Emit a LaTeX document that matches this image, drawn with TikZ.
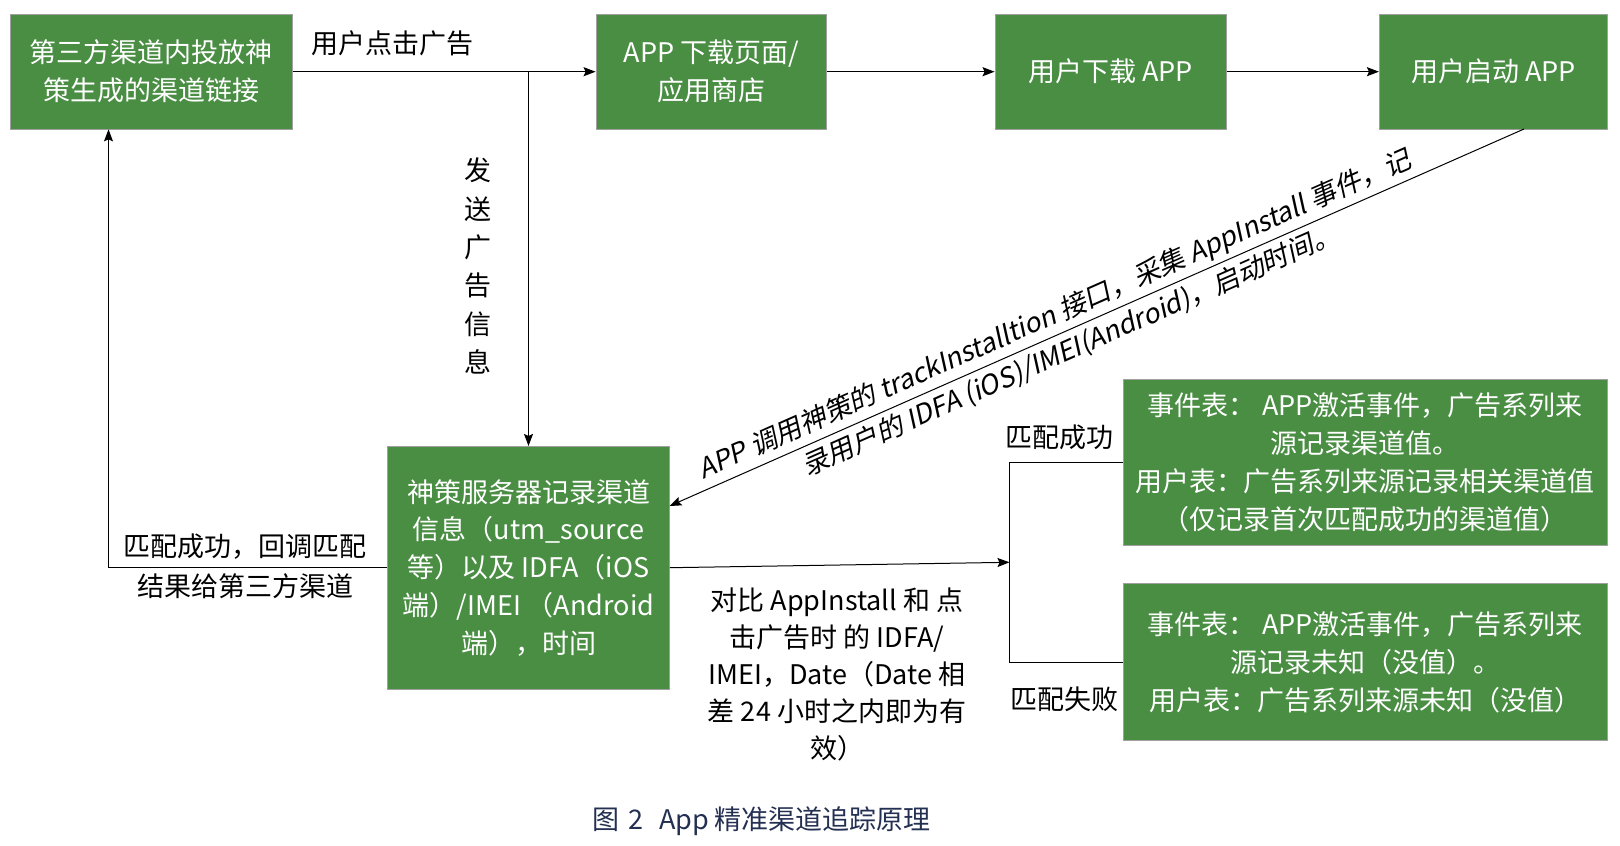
\documentclass[tikz,border=0pt]{standalone}
\usepackage{fontspec}
\setmainfont{Noto Sans CJK SC}
\newfontfamily\slfont{Noto Sans CJK SC}[FakeSlant=0.2]
\usetikzlibrary{arrows.meta,calc}
\definecolor{gfill}{RGB}{74,142,68}
\definecolor{gline}{RGB}{160,160,160}
\definecolor{capcol}{RGB}{36,48,82}
\begin{document}
\begin{tikzpicture}[x=1pt,y=-1pt,
  gbox/.style={draw=gline,line width=0.8pt,fill=gfill,text=white,align=center,inner sep=0pt,font=\fontsize{27}{38}\selectfont},
  lbl/.style={align=center,inner sep=0pt,font=\fontsize{27}{38}\selectfont},
  conn/.style={line width=1.5pt,-{Stealth[length=12pt,width=9pt,inset=2pt]}},
  thin/.style={line width=1pt}
]
\useasboundingbox (0,0) rectangle (1620,846);
% boxes
\node[gbox,minimum width=282pt,minimum height=114.5pt] (b1) at (151.4,71.7) {第三方渠道内投放神\\策生成的渠道链接};
\node[gbox,minimum width=230.6pt,minimum height=114.5pt] (b2) at (711.3,71.7) {APP 下载页面/\\应用商店};
\node[gbox,minimum width=231.4pt,minimum height=114.5pt] (b3) at (1110.7,71.7) {用户下载 APP};
\node[gbox,minimum width=228.3pt,minimum height=114.5pt] (b4) at (1493.5,71.7) {用户启动 APP};
\node[gbox,minimum width=282pt,minimum height=242.7pt,font=\fontsize{27}{37.7}\selectfont] (b5) at (528.5,567.7) {神策服务器记录渠道\\信息（utm\_source\\等）以及 IDFA（iOS\\端）/IMEI （Android\\端），时间};
\node[gbox,minimum width=484.6pt,minimum height=166.5pt] (b6) at (1365.3,462.3) {事件表： APP激活事件，广告系列来\\源记录渠道值。\\用户表：广告系列来源记录相关渠道值\\（仅记录首次匹配成功的渠道值）};
\node[gbox,minimum width=484.6pt,minimum height=157pt] (b7) at (1365.3,662.3) {事件表： APP激活事件，广告系列来\\源记录未知（没值）。\\用户表：广告系列来源未知（没值）};
% coordinates
\coordinate (fb) at (108.5,0);
\coordinate (br) at (1009.5,0);
\coordinate (d1) at (1524,129);
\coordinate (d2) at (669.5,506);
\coordinate (bm) at ($(b6.west)!0.5!(b7.west)$);
% connectors
\draw[conn] (b1.east) -- (b2.west);
\draw[conn] (b2.east) -- (b3.west);
\draw[conn] (b3.east) -- (b4.west);
\draw[conn,thin] (b5.north |- b1.east) -- (b5.north);
\draw[conn,thin] (b5.west) -| (fb |- b1.south);
\draw[conn,thin] (d1) -- node[sloped,pos=0.54,lbl,font=\slfont\fontsize{27}{39}\selectfont] {APP 调用神策的 trackInstalltion 接口，采集 AppInstall 事件，记\\录用户的 IDFA (iOS)/IMEI(Android)，启动时间。} (d2);
\draw[thin] (b6.west) -| (br |- b7.west) -- (b7.west);
\draw[conn,thin] (b5.east) -- (br |- bm);
% labels
\node[lbl] (l1) at (392.6,43.4) {用户点击广告};
\node[lbl,font=\fontsize{27}{38.3}\selectfont] (l2) at (478.4,266) {发\\送\\广\\告\\信\\息};
\node[lbl,font=\fontsize{27}{40}\selectfont] (l3) at (245,566) {匹配成功，回调匹配\\结果给第三方渠道};
\node[lbl,font=\fontsize{27}{37}\selectfont] (l4) at (837,674.5) {对比 AppInstall 和 点\\击广告时 的 IDFA/\\IMEI，Date（Date 相\\差 24 小时之内即为有\\效）};
\node[lbl] (l5) at (1059,437) {匹配成功};
\node[lbl] (l6) at (1064,699.5) {匹配失败};
\node[lbl,text=capcol] (cap) at (761.5,821.4) {图\hspace{9pt}2\hspace{16pt}App 精准渠道追踪原理};
\end{tikzpicture}
\end{document}
